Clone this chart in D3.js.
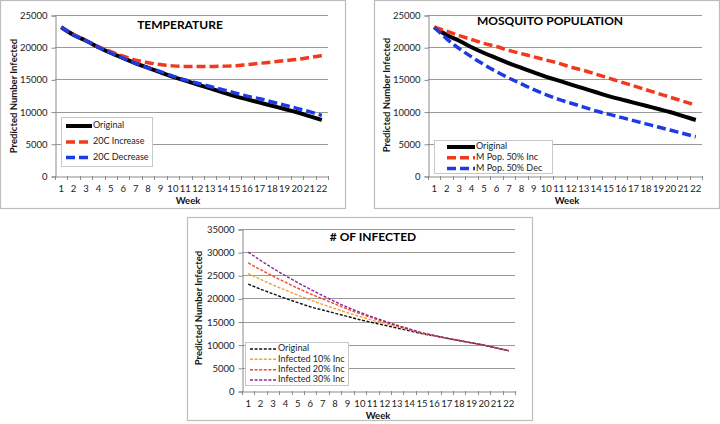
<!DOCTYPE html>
<html>
<head>
<meta charset="utf-8">
<script src="https://cdn.jsdelivr.net/npm/d3@7"></script>
<style>
  html, body { margin: 0; padding: 0; background: #fff; }
  svg { display: block; font-family: Lato, "Open Sans", sans-serif; }
</style>
</head>
<body>
<svg id="chart" width="720" height="424"></svg>
<script>
// ---------- DATA ----------
const weeks = d3.range(1, 23).map(String);

const tempOriginal = [23100, 21900, 21000, 20000, 19100, 18300, 17500, 16800, 16100, 15400, 14800, 14200, 13600, 13000, 12400, 11900, 11400, 10900, 10400, 9900, 9300, 8700];
const temp20Inc   = [23100, 22000, 21000, 20100, 19300, 18600, 18000, 17600, 17300, 17100, 17000, 17000, 17000, 17050, 17100, 17300, 17500, 17700, 17900, 18100, 18400, 18700];
const temp20Dec   = [23100, 21900, 21000, 20000, 19100, 18300, 17500, 16800, 16200, 15500, 14900, 14400, 13900, 13400, 12900, 12400, 12000, 11500, 11000, 10500, 10000, 9400];

const mosOriginal = [23100, 21900, 21000, 20000, 19100, 18300, 17500, 16800, 16100, 15400, 14800, 14200, 13600, 13000, 12400, 11900, 11400, 10900, 10400, 9900, 9300, 8700];
const mos50Inc    = [23100, 22500, 21800, 21200, 20600, 20100, 19500, 19000, 18500, 18000, 17500, 16900, 16400, 15800, 15200, 14600, 14000, 13400, 12800, 12200, 11600, 11000];
const mos50Dec    = [23100, 21300, 19800, 18500, 17300, 16200, 15200, 14300, 13400, 12600, 11900, 11300, 10700, 10100, 9600, 9100, 8600, 8100, 7600, 7100, 6600, 6100];

const infOriginal = [23100, 22000, 21000, 20000, 19100, 18200, 17500, 16800, 16100, 15400, 14800, 14200, 13600, 13000, 12400, 11900, 11400, 10900, 10400, 9900, 9300, 8700];
const inf10Inc    = [25400, 24100, 22900, 21800, 20700, 19700, 18700, 17800, 16900, 16100, 15300, 14600, 13900, 13200, 12450, 11900, 11400, 10900, 10400, 9900, 9300, 8700];
const inf20Inc    = [27700, 26200, 24800, 23500, 22200, 21000, 19900, 18800, 17700, 16700, 15800, 14900, 14100, 13300, 12500, 11950, 11400, 10900, 10400, 9900, 9300, 8700];
const inf30Inc    = [30000, 28200, 26500, 24900, 23400, 22000, 20600, 19300, 18100, 17000, 16000, 15100, 14200, 13400, 12600, 12000, 11400, 10900, 10400, 9900, 9300, 8700];

const yTicks25 = [0, 5000, 10000, 15000, 20000, 25000];
const yTicks35 = [0, 5000, 10000, 15000, 20000, 25000, 30000, 35000];

const titles = ["TEMPERATURE", "MOSQUITO POPULATION", "# OF INFECTED"];
const yAxisLabel = "Predicted Number Infected";
const xAxisLabel = "Week";

// ---------- DRAWING ----------
const svg = d3.select("#chart");
const TICK_FS = 9.5, AXIS_FS = 9.5, LEG_FS = 9;

function drawPanel(cfg) {
  svg.append("rect")
    .attr("x", cfg.box[0] + 0.5).attr("y", cfg.box[1] + 0.5)
    .attr("width", cfg.box[2] - cfg.box[0]).attr("height", cfg.box[3] - cfg.box[1])
    .attr("fill", "#fff").attr("stroke", "#bdbdbd").attr("stroke-width", 1.2);

  const g = svg.append("g");
  const x = d3.scaleBand().domain(weeks).range([cfg.plot[0], cfg.plot[1]]).padding(0);
  const y = d3.scaleLinear().domain([0, cfg.yMax]).range([cfg.plot[3], cfg.plot[2]]);
  const cx = w => x(w) + x.bandwidth() / 2;

  g.selectAll(null).data(cfg.yTicks.filter(t => t > 0)).join("line")
    .attr("x1", cfg.plot[0]).attr("x2", cfg.plot[1])
    .attr("y1", d => Math.round(y(d)) + 0.5).attr("y2", d => Math.round(y(d)) + 0.5)
    .attr("stroke", "#9a9a9a").attr("stroke-width", 1);

  const yAxis = d3.axisLeft(y).tickValues(cfg.yTicks).tickSize(4).tickPadding(4).tickFormat(d3.format("d"));
  const ya = g.append("g").attr("transform", `translate(${cfg.plot[0] + 0.5},0.5)`).call(yAxis);
  ya.select(".domain").attr("stroke", "#8a8a8a");
  ya.selectAll(".tick line").attr("stroke", "#8a8a8a");
  ya.selectAll(".tick text").attr("font-size", TICK_FS).attr("fill", "#222").attr("font-family", "Lato, sans-serif");

  const xAxis = d3.axisBottom(x).tickSize(0).tickPadding(9);
  const xa = g.append("g").attr("transform", `translate(0,${cfg.plot[3] + 0.5})`).call(xAxis);
  xa.select(".domain").attr("stroke", "#8a8a8a");
  xa.selectAll(".tick text").attr("font-size", TICK_FS).attr("fill", "#222").attr("font-family", "Lato, sans-serif");
  const bounds = weeks.map(w => x(w)).concat([x(weeks[weeks.length - 1]) + x.bandwidth()]);
  g.selectAll(null).data(bounds).join("line")
    .attr("x1", d => Math.round(d) + 0.5).attr("x2", d => Math.round(d) + 0.5)
    .attr("y1", cfg.plot[3]).attr("y2", cfg.plot[3] + 4)
    .attr("stroke", "#8a8a8a");

  g.append("text")
    .attr("transform", `translate(${cfg.yLabelX},${cfg.yLabelY}) rotate(-90)`)
    .attr("text-anchor", "middle").attr("dominant-baseline", "middle")
    .attr("font-size", AXIS_FS).attr("font-weight", "bold").attr("fill", "#111")
    .text(yAxisLabel);
  g.append("text")
    .attr("x", cfg.xLabelX).attr("y", cfg.xLabelY)
    .attr("text-anchor", "middle").attr("dominant-baseline", "middle")
    .attr("font-size", AXIS_FS).attr("font-weight", "bold").attr("fill", "#111")
    .text(xAxisLabel);

  g.append("text")
    .attr("x", cfg.titlePos[0]).attr("y", cfg.titlePos[1])
    .attr("text-anchor", "middle").attr("dominant-baseline", "middle")
    .attr("font-size", cfg.titleSize).attr("font-weight", "bold").attr("fill", "#000")
    .text(cfg.title);

  const line = d3.line().x((d, i) => cx(weeks[i])).y(d => y(d)).curve(d3.curveMonotoneX);
  cfg.series.forEach(s => {
    g.append("path").datum(s.values)
      .attr("d", line)
      .attr("fill", "none")
      .attr("stroke", s.color)
      .attr("stroke-width", s.width)
      .attr("stroke-dasharray", s.dash || null);
  });

  const L = cfg.legend;
  g.append("rect")
    .attr("x", L.box[0] + 0.5).attr("y", L.box[1] + 0.5)
    .attr("width", L.box[2] - L.box[0]).attr("height", L.box[3] - L.box[1])
    .attr("fill", "#fff").attr("stroke", "#c8c8c8");
  cfg.series.forEach((s, i) => {
    const yy = L.rows[i];
    g.append("line")
      .attr("x1", L.lineX[0]).attr("x2", L.lineX[1])
      .attr("y1", yy).attr("y2", yy)
      .attr("stroke", s.color).attr("stroke-width", s.width)
      .attr("stroke-dasharray", s.dash || null);
    g.append("text")
      .attr("x", L.lineX[1] + 1).attr("y", yy)
      .attr("dominant-baseline", "middle")
      .attr("font-size", LEG_FS).attr("fill", "#222")
      .text(s.name);
  });
}

drawPanel({
  box: [0, 0, 345, 208],
  plot: [55, 328, 15, 176],
  yMax: 25000, yTicks: yTicks25,
  yLabelX: 15, yLabelY: 96, xLabelX: 188, xLabelY: 202,
  title: titles[0], titlePos: [180, 26], titleSize: 12,
  series: [
    { name: "Original", values: tempOriginal, color: "#000", width: 4 },
    { name: "20C Increase", values: temp20Inc, color: "#f2391c", width: 3.5, dash: "9,4" },
    { name: "20C Decrease", values: temp20Dec, color: "#1c3ae6", width: 3.5, dash: "9,4" }
  ],
  legend: { box: [61, 117, 152, 166], rows: [126, 142, 157.5], lineX: [66, 92] }
});

drawPanel({
  box: [374, 0, 719, 208],
  plot: [428, 702, 15, 176],
  yMax: 25000, yTicks: yTicks25,
  yLabelX: 388, yLabelY: 95, xLabelX: 567, xLabelY: 202,
  title: titles[1], titlePos: [550, 22], titleSize: 12,
  series: [
    { name: "Original", values: mosOriginal, color: "#000", width: 4 },
    { name: "M Pop. 50% Inc", values: mos50Inc, color: "#f2391c", width: 3.5, dash: "9,4" },
    { name: "M Pop. 50% Dec", values: mos50Dec, color: "#1c3ae6", width: 3.5, dash: "9,4" }
  ],
  legend: { box: [434, 140, 552, 173], rows: [147, 157.7, 168.5], lineX: [447, 475] }
});

drawPanel({
  box: [187, 217, 532, 420],
  plot: [242, 515, 229, 391],
  yMax: 35000, yTicks: yTicks35,
  yLabelX: 200, yLabelY: 308, xLabelX: 378, xLabelY: 417,
  title: titles[2], titlePos: [373, 238], titleSize: 12,
  series: [
    { name: "Original", values: infOriginal, color: "#111", width: 1.4, dash: "3,1.6" },
    { name: "Infected 10% Inc", values: inf10Inc, color: "#f2a03c", width: 1.4, dash: "3,1.6" },
    { name: "Infected 20% Inc", values: inf20Inc, color: "#f04a32", width: 1.4, dash: "3,1.6" },
    { name: "Infected 30% Inc", values: inf30Inc, color: "#8c2496", width: 1.4, dash: "3,1.6" }
  ],
  legend: { box: [245, 342, 348, 385], rows: [349, 359.3, 369.7, 380], lineX: [250, 277] }
});
</script>
</body>
</html>
